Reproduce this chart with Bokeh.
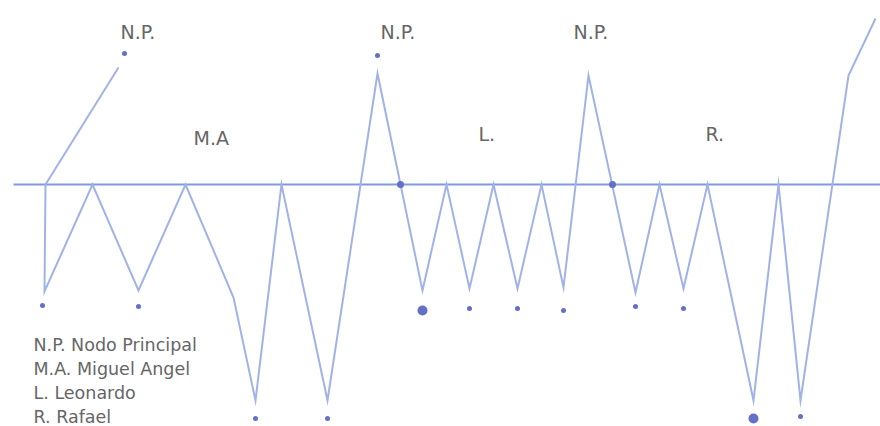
from bokeh.plotting import figure
from bokeh.models import Range1d, ColumnDataSource
from bokeh.core.properties import value
from bokeh.embed import file_html
from bokeh.resources import INLINE

# Zigzag path: horizontal position and level relative to the base line (0)
path_x = [118, 45, 44, 92, 138, 185, 233, 255, 281, 327, 377, 422, 446, 469,
          493, 517, 541, 563, 588, 635, 659, 683, 707, 753, 778, 800, 848, 875]
path_y = [117, 0, -107, 0, -106, 0, -113, -216, 0, -216, 111, -106, 0, -104,
          0, -104, 0, -103, 109, -108, 0, -104, 0, -216, 0, -216, 109, 166]

# Marked nodes
dot_x = [124, 377, 400, 612, 42, 138, 255, 327, 422, 469, 517, 563, 635, 683, 753, 800]
dot_y = [131, 129, 0, 0, -121, -122, -234, -234, -126, -124, -124, -126, -122, -124, -234, -232]
dot_kind = ["s", "s", "m", "m", "s", "s", "s", "s", "b", "s", "s", "s", "s", "s", "b", "s"]

# Base line extent
base_x = [13, 880]
base_y = [0, 0]

# Labels
label_text = ["N.P.", "N.P.", "N.P.", "M.A", "L.", "R."]
label_x = [120, 380, 573, 193, 478, 705]
label_y = [153, 153, 153, 47, 51, 51]

legend_lines = ["N.P. Nodo Principal", "M.A. Miguel Angel", "L. Leonardo", "R. Rafael"]
legend_x = [33, 33, 33, 33]
legend_y = [-160, -184, -208, -232]

size_map = {"s": 5, "m": 7, "b": 10}

p = figure(width=880, height=426, x_range=Range1d(0, 880), y_range=Range1d(-242, 184),
           output_backend="svg", toolbar_location=None, min_border=0)
p.axis.visible = False
p.grid.visible = False
p.outline_line_color = None
p.background_fill_color = "white"
p.border_fill_color = "white"

p.line(base_x, base_y, line_color="#7f9ade", line_width=2)
p.line(path_x, path_y, line_color="#a0b2e8", line_width=2, line_join="miter")

src = ColumnDataSource(dict(x=dot_x, y=dot_y, s=[size_map[k] for k in dot_kind]))
p.scatter("x", "y", size="s", source=src, fill_color="#6470c8", line_color=None)

p.text(label_x, label_y, text=label_text, text_font=value("DejaVu Sans"), text_font_size="19px",
       text_color="#666666", text_baseline="middle", text_align="left")
p.text(legend_x, legend_y, text=legend_lines, text_font=value("DejaVu Sans"), text_font_size="17.5px",
       text_color="#666666", text_baseline="middle", text_align="left")

open("out.html", "w").write(file_html(p, INLINE))
